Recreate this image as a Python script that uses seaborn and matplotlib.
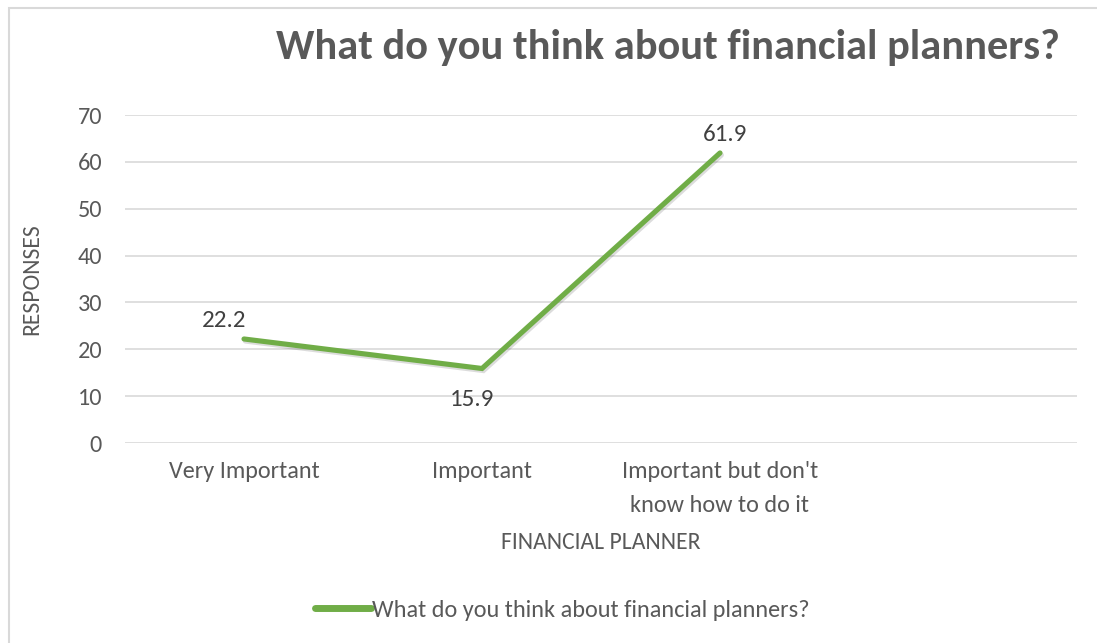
import numpy as np
import pandas as pd
import matplotlib
matplotlib.use("Agg")
import matplotlib.pyplot as plt
import matplotlib.patheffects as pe
from matplotlib import font_manager
from matplotlib.lines import Line2D
import seaborn as sns

# ---- data ----
categories = ["Very Important", "Important", "Important but don't\nknow how to do it", ""]
values = [22.2, 15.9, 61.9]
series_name = "What do you think about financial planners?"
title = "What do you think about financial planners?"
x_label = "FINANCIAL PLANNER"
y_label = "RESPONSES"
y_ticks = [0, 10, 20, 30, 40, 50, 60, 70]

sns.set_theme(style="white")
avail = {f.name for f in font_manager.fontManager.ttflist}
fam = next((f for f in ["Carlito", "Lato", "Open Sans", "DejaVu Sans"] if f in avail), "DejaVu Sans")
plt.rcParams["font.family"] = [fam, "DejaVu Sans"]

GRAY = "#595959"
GREEN = "#70AD47"

fig = plt.figure(figsize=(10.97, 6.43), dpi=100)
ax = fig.add_axes([125/1097, 1-443/643, (1077-125)/1097, (443-115)/643])

df = pd.DataFrame({"pos": np.arange(len(values)), "val": values, "series": series_name})
sns.lineplot(data=df, x="pos", y="val", ax=ax, color=GREEN, linewidth=3.7,
             solid_capstyle="round", solid_joinstyle="miter", legend=False,
             path_effects=[pe.SimpleLineShadow(offset=(1.0, -1.5), alpha=0.15, shadow_color="k"),
                           pe.Normal()])

ax.set_xlim(-0.5, len(categories) - 0.5)
ax.set_ylim(y_ticks[0], y_ticks[-1])
ax.set_yticks(y_ticks)
ax.set_xticks(np.arange(len(categories)))
ax.set_xticklabels(categories, fontsize=17.5, color=GRAY, linespacing=1.75)
ax.tick_params(axis="y", labelsize=17.5, labelcolor=GRAY, length=0, pad=16.5)
ax.tick_params(axis="x", length=0, pad=13)
ax.grid(axis="y", color="#D9D9D9", linewidth=1.2)
ax.grid(axis="x", visible=False)
for s in ax.spines.values():
    s.set_visible(False)

ax.set_xlabel(x_label, fontsize=17, color=GRAY, labelpad=12)
ax.set_ylabel(y_label, fontsize=17, color=GRAY)
ax.yaxis.set_label_coords((42 - 125) / 952, 0.5)

# data labels
offsets = [(-20, 18), (-10, -31), (5, 18)]
for i, v in enumerate(values):
    ax.annotate(f"{v}", (i, v), xytext=offsets[i], textcoords="offset pixels",
                ha="center", va="center", fontsize=18, color="#404040")

fig.text(668/1097, 1-47/643, title, ha="center", va="center", fontsize=30.5,
         fontweight="bold", color=GRAY)

# legend
h = Line2D([0], [0], color=GREEN, linewidth=5, solid_capstyle="round")
fig.legend([h], [series_name], loc="center", bbox_to_anchor=(0.5 + 14/1097, 1-610/643),
           frameon=False, fontsize=17.5, labelcolor=GRAY, handlelength=2.3,
           handletextpad=0.05)

# chart border
fig.patches.append(plt.Rectangle((9/1097, -0.01), 1.1, 1-8/643 + 0.01, transform=fig.transFigure,
                                 fill=False, edgecolor="#D9D9D9", linewidth=1.5))

fig.savefig("out.png", dpi=100, facecolor="white")
